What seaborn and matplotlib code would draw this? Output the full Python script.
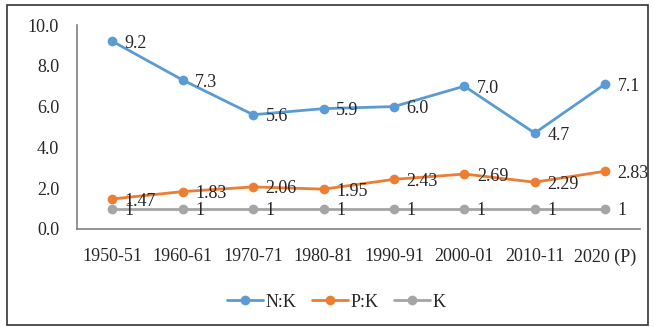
import pandas as pd
import matplotlib.pyplot as plt
import seaborn as sns
from matplotlib.patches import Rectangle

years = ["1950-51", "1960-61", "1970-71", "1980-81", "1990-91", "2000-01", "2010-11", "2020 (P)"]
nk = [9.2, 7.3, 5.6, 5.9, 6.0, 7.0, 4.7, 7.1]
pk = [1.47, 1.83, 2.06, 1.95, 2.43, 2.69, 2.29, 2.83]
k = [1, 1, 1, 1, 1, 1, 1, 1]

nk_labels = ["9.2", "7.3", "5.6", "5.9", "6.0", "7.0", "4.7", "7.1"]
pk_labels = ["1.47", "1.83", "2.06", "1.95", "2.43", "2.69", "2.29", "2.83"]
k_labels = ["1"] * 8

series = ["N:K", "P:K", "K"]
colors = {"N:K": "#5B9BD5", "P:K": "#ED7D31", "K": "#A5A5A5"}

rows = []
for name, vals in zip(series, [nk, pk, k]):
    for i, v in enumerate(vals):
        rows.append({"idx": i, "value": v, "series": name})
df = pd.DataFrame(rows)

sns.set_theme(style="white")
plt.rcParams['font.family'] = ['Liberation Serif', 'DejaVu Serif']
fs = 13
txt = "#262626"

fig = plt.figure(figsize=(6.54, 3.27), dpi=100)
ax = fig.add_axes([0.118, 0.300, 0.861, 0.6235])

sns.lineplot(data=df, x="idx", y="value", hue="series", hue_order=series,
             palette=colors, marker="o", markersize=7, markeredgewidth=0,
             linewidth=2, sort=False, ax=ax)

# data labels, to the right of each point
for vals, labs in zip([nk, pk, k], [nk_labels, pk_labels, k_labels]):
    for i, (v, lab) in enumerate(zip(vals, labs)):
        ax.annotate(lab, (i, v), xytext=(9, -1.5), textcoords="offset points",
                    ha="left", va="center", fontsize=fs, color=txt)

ax.set_xlim(-0.5, 7.5)
ax.set_ylim(0, 10)
ax.set_xticks(range(len(years)))
ax.set_xticklabels(years, fontsize=fs, color=txt)
ax.set_yticks([0, 2, 4, 6, 8, 10])
ax.set_yticklabels([f"{t:.1f}" for t in [0, 2, 4, 6, 8, 10]], fontsize=fs, color=txt)
ax.tick_params(axis="both", length=0)
ax.tick_params(axis="x", pad=14)
ax.tick_params(axis="y", pad=13)
ax.set_xlabel("")
ax.set_ylabel("")
for s in ["top", "right"]:
    ax.spines[s].set_visible(False)
for s in ["left", "bottom"]:
    ax.spines[s].set_color("#808080")
    ax.spines[s].set_linewidth(1.2)

ax.legend(loc="center", bbox_to_anchor=(0.46, -0.36), ncol=3, frameon=False,
          fontsize=fs, handlelength=2.0, columnspacing=0.9, handletextpad=0.1,
          labelcolor=txt)

# outer border
fig.patches.append(Rectangle((0.011, 0.006), 0.98, 0.978, transform=fig.transFigure,
                             fill=False, edgecolor="#333333", linewidth=1.2))

plt.savefig("out.png", dpi=100)
